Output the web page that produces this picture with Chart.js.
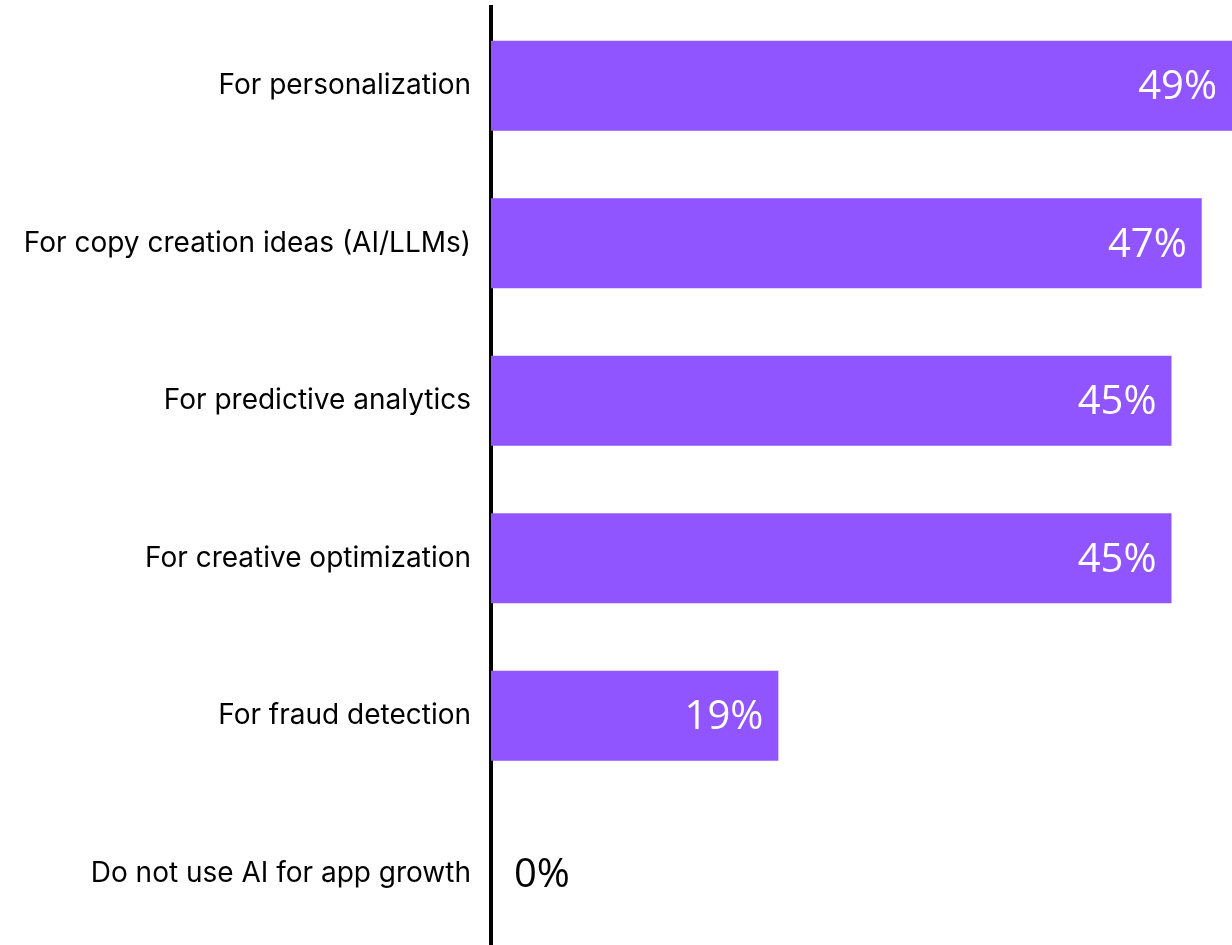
<!DOCTYPE html>
<html lang="en">
<head>
  <meta charset="UTF-8">
  <title>AI use for app growth</title>
  <style>
    html, body {
      margin: 0;
      padding: 0;
      background: #ffffff;
      overflow: hidden;
    }
    .chart-box {
      position: relative;
      width: 1232px;
      height: 952px;
    }
  </style>
</head>
<body>
  <div class="chart-box">
    <canvas id="aiChart"></canvas>
  </div>

  <script src="https://cdn.jsdelivr.net/npm/chart.js@4"></script>
  <script>
    // categories and shares (%)
    var categories = [
      'For personalization',
      'For copy creation ideas (AI/LLMs)',
      'For predictive analytics',
      'For creative optimization',
      'For fraud detection',
      'Do not use AI for app growth'
    ];
    var shares = [49, 47, 45, 45, 19, 0];

    // value labels: white inside the bar end, black next to the axis when empty
    var valueLabels = {
      id: 'valueLabels',
      afterDatasetsDraw: function (chart) {
        var ctx = chart.ctx;
        var meta = chart.getDatasetMeta(0);
        ctx.save();
        ctx.font = '40px "Open Sans", sans-serif';
        ctx.textBaseline = 'middle';
        meta.data.forEach(function (bar, i) {
          var v = shares[i];
          var txt = v + '%';
          if (v > 5) {
            ctx.fillStyle = '#ffffff';
            ctx.textAlign = 'right';
            ctx.fillText(txt, bar.x - 15, bar.y + 2);
          } else {
            ctx.fillStyle = '#000000';
            ctx.textAlign = 'left';
            ctx.fillText(txt, bar.x + 23, bar.y + 2);
          }
        });
        ctx.restore();
      }
    };

    var ctx = document.getElementById('aiChart').getContext('2d');
    var aiChart = new Chart(ctx, {
      type: 'bar',
      data: {
        labels: categories,
        datasets: [{
          data: shares,
          backgroundColor: '#9155ff',
          borderWidth: 0,
          barPercentage: 0.57,
          categoryPercentage: 1
        }]
      },
      options: {
        indexAxis: 'y',
        responsive: true,
        maintainAspectRatio: false,
        animation: false,
        layout: {
          padding: { top: 7, right: 0, bottom: 0, left: 0 }
        },
        plugins: {
          legend: { display: false },
          tooltip: { enabled: false }
        },
        scales: {
          x: {
            display: false,
            min: 0,
            max: 49
          },
          y: {
            grid: { display: false },
            border: { display: true, color: '#000000', width: 4 },
            ticks: {
              color: '#000000',
              padding: 12,
              font: { family: 'Inter, sans-serif', size: 28 }
            },
            afterFit: function (scale) {
              scale.width = 491;
              scale.paddingTop = 0;
              scale.paddingBottom = 0;
            }
          }
        }
      },
      plugins: [valueLabels]
    });
  </script>
</body>
</html>
